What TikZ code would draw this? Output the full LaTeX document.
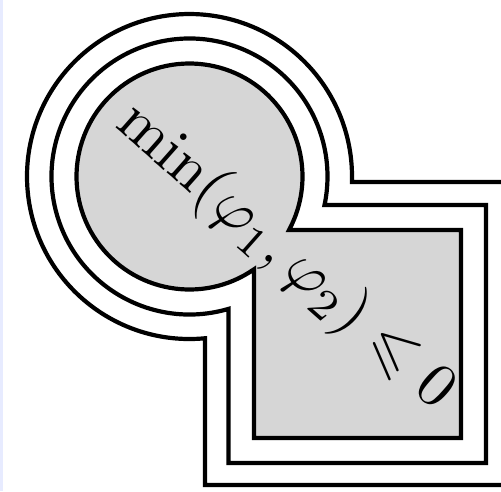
\documentclass[tikz,border=0pt]{standalone}
\usepackage{amssymb}
\definecolor{stripblue}{RGB}{231,235,255}
\definecolor{shapegray}{RGB}{214,214,214}
\newcommand{\ctrx}{18.95}
\newcommand{\ctry}{31.45}
\newcommand{\unionshape}[6]{%
 \pgfmathsetmacro{\udxl}{#3-\ctrx}%
 \pgfmathsetmacro{\uayl}{-sqrt((#2)*(#2)-(\udxl)*(\udxl))}%
 \pgfmathsetmacro{\uangL}{atan2(\uayl,\udxl)}%
 \pgfmathsetmacro{\udyt}{#5-\ctry}%
 \pgfmathsetmacro{\uaxt}{sqrt((#2)*(#2)-(\udyt)*(\udyt))}%
 \pgfmathsetmacro{\uangT}{atan2(\udyt,\uaxt)-360}%
 \draw[#1] (#3,\ctry+\uayl) arc[start angle=\uangL, end angle=\uangT, radius=#2] -- (#4,#5) -- (#4,#6) -- (#3,#6) -- cycle;%
}
\tikzset{outline/.style={line width=4.2pt, line join=miter, draw=black}}
\begin{document}
\begin{tikzpicture}[x=10pt,y=10pt]
\useasboundingbox (0,0) rectangle (50.1,49.1);
\clip (0,0) rectangle (50.1,49.1);
\fill[white] (0,0) rectangle (50.1,49.1);
\fill[stripblue] (0,0) rectangle (0.3,49.1);
% outer outline
\unionshape{outline}{16.25}{20.5}{51.1}{30.9}{0.6}
% middle outline
\unionshape{outline}{13.8}{22.85}{48.6}{28.6}{2.8}
% inner filled shape
\unionshape{outline, fill=shapegray}{11.3}{25.4}{46.1}{26.1}{5.3}
\node[rotate=-41.5, scale=6.2, anchor=base west, inner sep=0pt] (label) at (11.33,36.58) {$\min(\varphi_1,\varphi_2)\leqslant 0$};
\end{tikzpicture}
\end{document}
